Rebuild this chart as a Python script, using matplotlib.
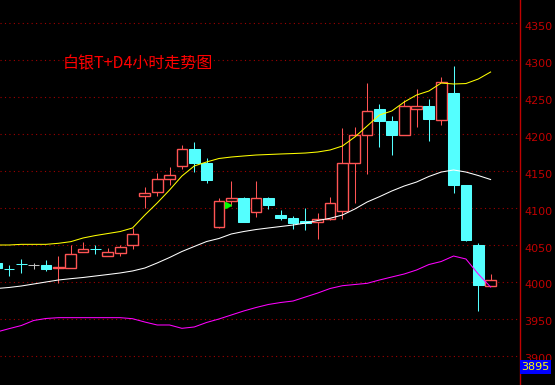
import matplotlib
matplotlib.use("Agg")
import matplotlib.pyplot as plt
import matplotlib.transforms as mtransforms
from matplotlib.patches import Rectangle

# 4-hour candles (open, high, low, close)
opens = [4025.7, 4017.8, 4024.5, 4023.0, 4023.0, 4018.3, 4019.3, 4040.9, 4044.4, 4035.5,
         4039.6, 4049.6, 4115.8, 4121.2, 4138.8, 4156.4, 4179.7, 4160.8, 4074.7, 4109.9,
         4113.5, 4095.0, 4113.5, 4090.5, 4086.1, 4082.4, 4080.7, 4085.1, 4096.4, 4161.2,
         4199.1, 4233.8, 4217.6, 4199.1, 4234.2, 4237.8, 4219.3, 4255.4, 4131.1, 4050.0,
         3995.0]
highs = [4025.7, 4023.0, 4031.1, 4025.7, 4029.7, 4035.1, 4050.0, 4054.1, 4050.0, 4045.5,
         4050.0, 4072.6, 4128.4, 4147.3, 4155.4, 4185.1, 4189.2, 4167.6, 4113.1, 4136.5,
         4114.9, 4136.5, 4114.9, 4097.3, 4089.2, 4100.0, 4093.2, 4114.9, 4207.7, 4209.5,
         4268.9, 4240.5, 4224.3, 4246.0, 4260.8, 4247.3, 4277.0, 4291.9, 4131.1, 4052.7,
         4010.8]
lows = [4018.9, 4008.1, 4012.2, 4017.6, 4014.9, 3998.6, 4019.3, 4040.9, 4037.8, 4035.5,
        4035.5, 4045.0, 4100.4, 4116.6, 4131.5, 4152.3, 4149.0, 4134.2, 4073.0, 4102.7,
        4081.5, 4088.2, 4099.0, 4083.8, 4072.0, 4070.3, 4058.5, 4083.8, 4085.5, 4107.2,
        4146.4, 4182.4, 4171.6, 4199.1, 4209.5, 4190.5, 4212.6, 4120.7, 4055.8, 3961.2,
        3995.0]
closes = [4018.9, 4017.6, 4024.3, 4023.0, 4017.6, 4019.8, 4037.8, 4044.6, 4044.2, 4040.1,
          4046.9, 4064.5, 4120.3, 4138.8, 4144.6, 4179.7, 4160.8, 4138.2, 4109.5, 4113.5,
          4081.5, 4113.5, 4104.5, 4086.9, 4080.1, 4079.7, 4084.7, 4106.8, 4160.8, 4198.6,
          4231.1, 4217.6, 4199.1, 4237.8, 4237.8, 4220.3, 4270.3, 4131.5, 4057.2, 3996.4,
          4002.7]

# Bollinger bands
upper = [4050.0, 4050.0, 4050.9, 4050.9, 4050.9, 4052.3, 4054.5, 4059.5, 4062.8, 4065.5,
         4068.2, 4073.0, 4090.5, 4106.8, 4124.3, 4143.2, 4156.8, 4162.2, 4166.9, 4168.9,
         4170.3, 4171.6, 4172.3, 4173.0, 4173.6, 4174.3, 4175.7, 4178.4, 4183.8, 4195.9,
         4210.8, 4225.7, 4231.1, 4243.2, 4252.7, 4258.1, 4268.9, 4267.6, 4268.2, 4274.3,
         4283.8]
middle = [3991.2, 3992.6, 3994.6, 3997.3, 4000.0, 4002.7, 4004.5, 4006.1, 4008.1, 4010.1,
          4012.2, 4014.9, 4018.9, 4025.7, 4033.1, 4041.2, 4048.0, 4054.7, 4058.8, 4064.9,
          4068.2, 4070.9, 4073.0, 4075.0, 4077.0, 4079.7, 4083.1, 4086.1, 4090.5, 4098.6,
          4108.1, 4115.3, 4123.0, 4129.7, 4135.1, 4142.6, 4148.6, 4151.4, 4148.6, 4143.9,
          4138.5]
lower = [3932.4, 3936.9, 3941.2, 3948.0, 3950.7, 3951.8, 3951.8, 3951.8, 3951.8, 3951.8,
         3951.8, 3950.4, 3945.9, 3941.9, 3941.9, 3937.4, 3939.2, 3945.3, 3950.0, 3955.4,
         3960.8, 3965.5, 3969.6, 3972.3, 3974.3, 3979.7, 3985.1, 3991.2, 3995.0, 3996.6,
         3998.2, 4002.7, 4006.8, 4010.8, 4016.2, 4023.6, 4027.7, 4035.1, 4031.1, 4010.8,
         3993.2]

price_ticks = [3900, 3950, 4000, 4050, 4100, 4150, 4200, 4250, 4300, 4350]
title = "白银T+D4小时走势图"
price_box = "3895"
flag_idx, flag_price = 18.7, 4104

UP = "#ff5454"
DOWN = "#54ffff"
FLAT = "#c0c0c0"

fig = plt.figure(figsize=(5.55, 3.85), dpi=100, facecolor="black")
ax = fig.add_axes([0, 0, 520 / 555, 1])
ax.set_facecolor("black")

x = list(range(len(opens)))
w = 0.87
for i in x:
    o, h, l, c = opens[i], highs[i], lows[i], closes[i]
    if c > o:
        ax.vlines(i, c, h, color=UP, lw=0.75, zorder=3)
        ax.vlines(i, l, o, color=UP, lw=0.75, zorder=3)
        ax.add_patch(Rectangle((i - w / 2, o), w, c - o, facecolor="black",
                               edgecolor=UP, lw=1.0, zorder=4))
    elif c < o:
        ax.vlines(i, l, h, color=DOWN, lw=0.75, zorder=3)
        ax.add_patch(Rectangle((i - w / 2, c), w, o - c, facecolor=DOWN,
                               edgecolor=DOWN, lw=0.75, zorder=4))
    else:
        ax.vlines(i, l, h, color=FLAT, lw=0.75, zorder=3)
        ax.hlines(o, i - w / 2, i + w / 2, color=FLAT, lw=0.75, zorder=4)

ax.plot(x, upper, color="#ffff00", lw=0.75, zorder=5)
ax.plot(x, middle, color="#ffffff", lw=0.75, zorder=5)
ax.plot(x, lower, color="#ff00ff", lw=0.75, zorder=5)
ax.plot(flag_idx, flag_price, marker=">", color="#00ff00", ms=4, zorder=6)

ax.set_xlim(0.27, 42.38)
ax.set_ylim(3860.8, 4381.1)
ax.set_yticks(price_ticks)
ax.set_xticks([])
ax.yaxis.tick_right()
ax.tick_params(axis="y", length=0, pad=3, colors="#c00000", labelsize=8)
shift = mtransforms.ScaledTranslation(0, -0.025, fig.dpi_scale_trans)
for lab in ax.get_yticklabels():
    lab.set_transform(lab.get_transform() + shift)
ax.grid(axis="y", color="#a00000", linestyle=(0, (1, 3)), lw=0.8)
for s in ["top", "left", "bottom"]:
    ax.spines[s].set_visible(False)
ax.spines["right"].set_color("#c00000")
ax.spines["right"].set_linewidth(1)

ax.text(0.121, 0.834, title, transform=ax.transAxes, color="#ff0000",
        fontsize=11.5, family=["Noto Sans CJK SC", "DejaVu Sans"], va="center")
ax.text(1.003, 0.047, price_box, transform=ax.transAxes, color="#ffff00",
        fontsize=8, va="center", ha="left", zorder=10,
        bbox=dict(boxstyle="square,pad=0.15", facecolor="#0000ff", edgecolor="none"),
        clip_on=False)

fig.savefig("out.png", dpi=100, facecolor="black")
